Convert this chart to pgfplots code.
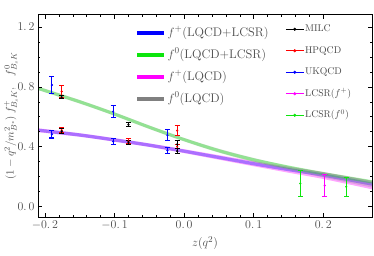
\documentclass[border=0pt]{standalone}
\usepackage{pgfplots}
\pgfplotsset{compat=1.18}
\usepgfplotslibrary{fillbetween}
\usepackage{pgfplotstable}

\definecolor{bblue}{rgb}{0,0,1}
\definecolor{bgreen}{rgb}{0.05,0.9,0.05}
\definecolor{bmag}{rgb}{1,0,1}
\definecolor{bgray}{rgb}{0.5,0.5,0.5}
\definecolor{lblgray}{rgb}{0.3,0.3,0.3}

% bands: z, upper, lower
\pgfplotstableread{
z     bU    bL    mU    mL    gU    gL    kU    kL
-0.21 0.521 0.499 0.523 0.497 0.801 0.779 0.802 0.778
-0.15 0.489 0.467 0.490 0.466 0.711 0.689 0.712 0.688
-0.10 0.456 0.434 0.457 0.433 0.629 0.607 0.630 0.606
-0.05 0.421 0.399 0.422 0.398 0.541 0.519 0.542 0.518
0.00  0.381 0.359 0.383 0.357 0.458 0.436 0.459 0.435
0.05  0.339 0.317 0.343 0.313 0.384 0.362 0.386 0.360
0.10  0.297 0.275 0.303 0.269 0.323 0.301 0.325 0.297
0.15  0.258 0.236 0.266 0.226 0.274 0.252 0.272 0.245
0.20  0.221 0.199 0.230 0.184 0.231 0.209 0.229 0.194
0.27  0.161 0.139 0.171 0.115 0.176 0.154 0.173 0.127
}\bands

\pgfplotstableread{
z v e
-0.176 0.731 0.012
-0.176 0.503 0.016
-0.080 0.547 0.015
-0.080 0.430 0.014
-0.010 0.415 0.025
-0.010 0.370 0.016
}\milc
\pgfplotstableread{
z v e
-0.176 0.769 0.038
-0.176 0.510 0.018
-0.080 0.436 0.016
-0.010 0.508 0.033
-0.010 0.400 0.015
}\hpqcd
\pgfplotstableread{
z v e
-0.190 0.812 0.058
-0.190 0.483 0.025
-0.102 0.634 0.042
-0.102 0.435 0.022
-0.024 0.477 0.036
-0.024 0.375 0.022
}\ukqcd
\pgfplotstableread{
z v e
0.202 0.140 0.074
}\lcsrp
\pgfplotstableread{
z v e
0.167 0.154 0.087
0.233 0.132 0.065
}\lcsrz

\pgfplotsset{
  errpts/.style={color=#1, only marks, mark=*, mark size=0.9pt,
    mark options={draw=#1, fill=#1},
    error bars/.cd, y dir=both, y explicit,
    error bar style={line width=1.1pt, draw=#1},
    error mark options={rotate=90, mark size=2.5pt, line width=1.1pt, draw=#1}},
}

\begin{document}
\begin{tikzpicture}
\begin{axis}[
  width=334bp, height=202bp, scale only axis,
  xmin=-0.21, xmax=0.27, ymin=-0.07, ymax=1.28,
  xtick={-0.2,-0.1,0,0.1,0.2},
  xticklabels={$-0.\,2$,$-0.\,1$,$0.\,0$,$0.\,1$,$0.\,2$},
  ytick={0,0.4,0.8,1.2},
  yticklabels={$0.\,0$,$0.\,4$,$0.\,8$,$1.\,2$},
  minor x tick num=4, minor y tick num=3,
  tick align=inside, tick pos=both,
  major tick length=4bp, minor tick length=2bp,
  axis line style={line width=1pt},
  tick style={black, line width=0.5pt},
  ticklabel style={text=lblgray, font=\fontsize{11.5}{13}\selectfont},
  xlabel={$z(q^2)$},
  xlabel style={at={(axis description cs:0.5,-0.129)}, anchor=center, text=lblgray, font=\fontsize{13}{15}\selectfont},
  ylabel={$(1-q^2/m_{B^*}^2)\,f^{+}_{B_sK}$,\quad $f^{0}_{B_sK}$},
  ylabel style={at={(axis description cs:-0.081,0.5)}, anchor=center, text=lblgray, font=\fontsize{11}{13}\selectfont},
  axis on top,
  legend style={at={(axis description cs:0.290,0.946)}, anchor=north west,
    draw=none, fill=none, inner sep=0pt, row sep=8bp,
    font=\fontsize{12.5}{14}\selectfont,
    nodes={inner sep=1bp, text height=9bp, text depth=3bp, text=lblgray}},
  legend cell align=left,
]
% legend entries (left)
\addlegendimage{legend image code/.code={\draw[bblue, line width=4.5bp] (0bp,0bp) -- (27bp,0bp);}}
\addlegendentry{$f^{+}$(LQCD+LCSR)}
\addlegendimage{legend image code/.code={\draw[bgreen, line width=4.5bp] (0bp,0bp) -- (27bp,0bp);}}
\addlegendentry{$f^{0}$(LQCD+LCSR)}
\addlegendimage{legend image code/.code={\draw[bmag, line width=4.5bp] (0bp,0bp) -- (27bp,0bp);}}
\addlegendentry{$f^{+}$(LQCD)}
\addlegendimage{legend image code/.code={\draw[bgray, line width=4.5bp] (0bp,0bp) -- (27bp,0bp);}}
\addlegendentry{$f^{0}$(LQCD)}

% band boundaries
\addplot[name path=mU, draw=none, smooth, forget plot] table[x=z, y=mU] {\bands};
\addplot[name path=mL, draw=none, smooth, forget plot] table[x=z, y=mL] {\bands};
\addplot[name path=bU, draw=none, smooth, forget plot] table[x=z, y=bU] {\bands};
\addplot[name path=bL, draw=none, smooth, forget plot] table[x=z, y=bL] {\bands};
\addplot[name path=kU, draw=none, smooth, forget plot] table[x=z, y=kU] {\bands};
\addplot[name path=kL, draw=none, smooth, forget plot] table[x=z, y=kL] {\bands};
\addplot[name path=gU, draw=none, smooth, forget plot] table[x=z, y=gU] {\bands};
\addplot[name path=gL, draw=none, smooth, forget plot] table[x=z, y=gL] {\bands};

\addplot[fill=bmag, fill opacity=0.35, draw=none, forget plot] fill between[of=mU and mL];
\addplot[fill=bblue, fill opacity=0.33, draw=none, forget plot] fill between[of=bU and bL];
\addplot[fill=bgray, fill opacity=0.25, draw=none, forget plot] fill between[of=kU and kL];
\addplot[fill=bgreen, fill opacity=0.36, draw=none, forget plot] fill between[of=gU and gL];

% data points
\addplot[forget plot, errpts=bgreen] table[x=z, y=v, y error=e] {\lcsrz};
\addplot[forget plot, errpts=bmag] table[x=z, y=v, y error=e] {\lcsrp};
\addplot[forget plot, errpts=bblue] table[x=z, y=v, y error=e] {\ukqcd};
\addplot[forget plot, errpts=red] table[x=z, y=v, y error=e] {\hpqcd};
\addplot[forget plot, errpts=black] table[x=z, y=v, y error=e] {\milc};
\end{axis}

% second axis: right legend only
\begin{axis}[
  width=334bp, height=202bp, scale only axis,
  xmin=-0.21, xmax=0.27, ymin=-0.07, ymax=1.28,
  hide axis,
  legend style={at={(axis description cs:0.740,0.960)}, anchor=north west,
    draw=none, fill=none, inner sep=0pt, row sep=9.5bp,
    font=\fontsize{9.8}{11}\selectfont,
    nodes={inner sep=1bp, text height=7.5bp, text depth=2.5bp, text=lblgray}},
  legend cell align=left,
]
\addlegendimage{legend image code/.code={\draw[black, line width=0.8pt] (0bp,0bp) -- (18bp,0bp); \fill[black] (9bp,0bp) circle (1.3bp);}}
\addlegendentry{MILC}
\addlegendimage{legend image code/.code={\draw[red, line width=0.8pt] (0bp,0bp) -- (18bp,0bp); \fill[red] (9bp,0bp) circle (1.3bp);}}
\addlegendentry{HPQCD}
\addlegendimage{legend image code/.code={\draw[bblue, line width=0.8pt] (0bp,0bp) -- (18bp,0bp); \fill[bblue] (9bp,0bp) circle (1.3bp);}}
\addlegendentry{UKQCD}
\addlegendimage{legend image code/.code={\draw[bmag, line width=0.8pt] (0bp,0bp) -- (18bp,0bp); \fill[bmag] (9bp,0bp) circle (1.3bp);}}
\addlegendentry{LCSR($f^{+}$)}
\addlegendimage{legend image code/.code={\draw[bgreen, line width=0.8pt] (0bp,0bp) -- (18bp,0bp); \fill[bgreen] (9bp,0bp) circle (1.3bp);}}
\addlegendentry{LCSR($f^{0}$)}
\addplot[draw=none, forget plot] coordinates {(0,0)};
\end{axis}

\pgfresetboundingbox
\useasboundingbox (-38bp,-39bp) rectangle (336bp,217bp);
\end{tikzpicture}
\end{document}
